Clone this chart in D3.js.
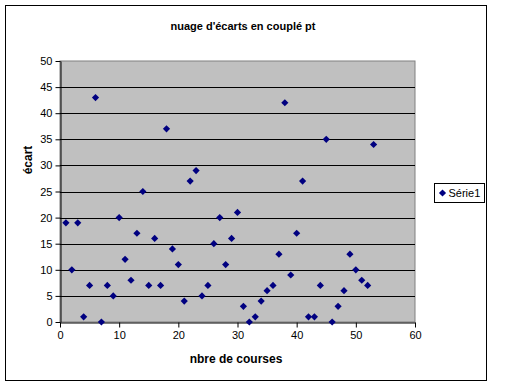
<!DOCTYPE html>
<html>
<head>
<meta charset="utf-8">
<script src="https://cdn.jsdelivr.net/npm/d3@7"></script>
<style>
  body { margin: 0; background: #fff; }
  svg { display: block; font-family: Arial, "Liberation Sans", sans-serif; }
</style>
</head>
<body>
<svg id="chart" width="512" height="387" viewBox="0 0 512 387"></svg>
<script>
const courses = [1, 2, 3, 4, 5, 6, 7, 8, 9, 10, 11, 12, 13, 14, 15, 16, 17, 18, 19, 20,
    21, 22, 23, 24, 25, 26, 27, 28, 29, 30, 31, 32, 33, 34, 35, 36, 37, 38, 39, 40,
    41, 42, 43, 44, 45, 46, 47, 48, 49, 50, 51, 52, 53];
const ecarts = [19, 10, 19, 1, 7, 43, 0, 7, 5, 20, 12, 8, 17, 25, 7, 16, 7, 37, 14, 11,
    4, 27, 29, 5, 7, 15, 20, 11, 16, 21, 3, 0, 1, 4, 6, 7, 13, 42, 9, 17,
    27, 1, 1, 7, 35, 0, 3, 6, 13, 10, 8, 7, 34];
const xTicks = [0, 10, 20, 30, 40, 50, 60];
const yTicks = [0, 5, 10, 15, 20, 25, 30, 35, 40, 45, 50];

const svg = d3.select("#chart");

// outer chart border
svg.append("rect")
    .attr("x", 5.5).attr("y", 5.5)
    .attr("width", 481).attr("height", 375)
    .attr("fill", "#fff")
    .attr("stroke", "#000")
    .attr("stroke-width", 1);

const plot = { left: 60, top: 61, right: 415, bottom: 322 };

const x = d3.scaleLinear().domain([0, 60]).range([plot.left, plot.right]);
const y = d3.scaleLinear().domain([0, 50]).range([plot.bottom, plot.top]);

// plot area
svg.append("rect")
    .attr("x", plot.left).attr("y", plot.top)
    .attr("width", plot.right - plot.left).attr("height", plot.bottom - plot.top)
    .attr("fill", "#c0c0c0")
    .attr("stroke", "#808080");

// gridlines
svg.append("g")
    .selectAll("line")
    .data(yTicks.filter(d => d > 0 && d < 50))
    .enter()
    .append("line")
    .attr("x1", plot.left).attr("x2", plot.right)
    .attr("y1", d => Math.round(y(d)) + 0.5).attr("y2", d => Math.round(y(d)) + 0.5)
    .attr("stroke", "#000");

const yAxis = svg.append("g")
    .attr("transform", `translate(${plot.left + 0.5},0)`)
    .call(d3.axisLeft(y).tickValues(yTicks).tickSize(5).tickPadding(3).tickSizeOuter(0));

const xAxis = svg.append("g")
    .attr("transform", `translate(0,${plot.bottom + 0.5})`)
    .call(d3.axisBottom(x).tickValues(xTicks).tickSize(5).tickPadding(4).tickSizeOuter(0));

[xAxis, yAxis].forEach(a => {
    a.select(".domain").attr("stroke", "#000");
    a.selectAll(".tick line").attr("stroke", "#000");
    a.selectAll(".tick text")
        .attr("fill", "#000")
        .style("font-size", "11px")
        .style("font-family", "Arial, 'Liberation Sans', sans-serif");
});

// points: square diamonds (square turned 45deg)
const marker = d3.symbol().type(d3.symbolSquare).size(26);
svg.append("g")
    .selectAll("path")
    .data(courses.map((c, i) => ({ x: c, y: ecarts[i] })))
    .enter()
    .append("path")
    .attr("d", marker)
    .attr("transform", d => `translate(${x(d.x)},${y(d.y)}) rotate(45)`)
    .attr("fill", "#000080");

// titles
svg.append("text")
    .attr("x", 243).attr("y", 30)
    .attr("text-anchor", "middle")
    .style("font-size", "11px").style("font-weight", "bold")
    .text("nuage d'écarts en couplé pt");

svg.append("text")
    .attr("x", 236).attr("y", 363)
    .attr("text-anchor", "middle")
    .style("font-size", "12px").style("font-weight", "bold")
    .text("nbre de courses");

svg.append("text")
    .attr("transform", "translate(32,160) rotate(-90)")
    .attr("text-anchor", "middle")
    .style("font-size", "12px").style("font-weight", "bold")
    .text("écart");

// legend
const legend = svg.append("g").attr("transform", "translate(434.5,183.5)");
legend.append("rect")
    .attr("width", 50).attr("height", 19)
    .attr("fill", "#fff").attr("stroke", "#000");
legend.append("path")
    .attr("d", marker)
    .attr("transform", "translate(8,9.5) rotate(45)")
    .attr("fill", "#000080");
legend.append("text")
    .attr("x", 14).attr("y", 13.5)
    .style("font-size", "11px")
    .text("Série1");
</script>
</body>
</html>
